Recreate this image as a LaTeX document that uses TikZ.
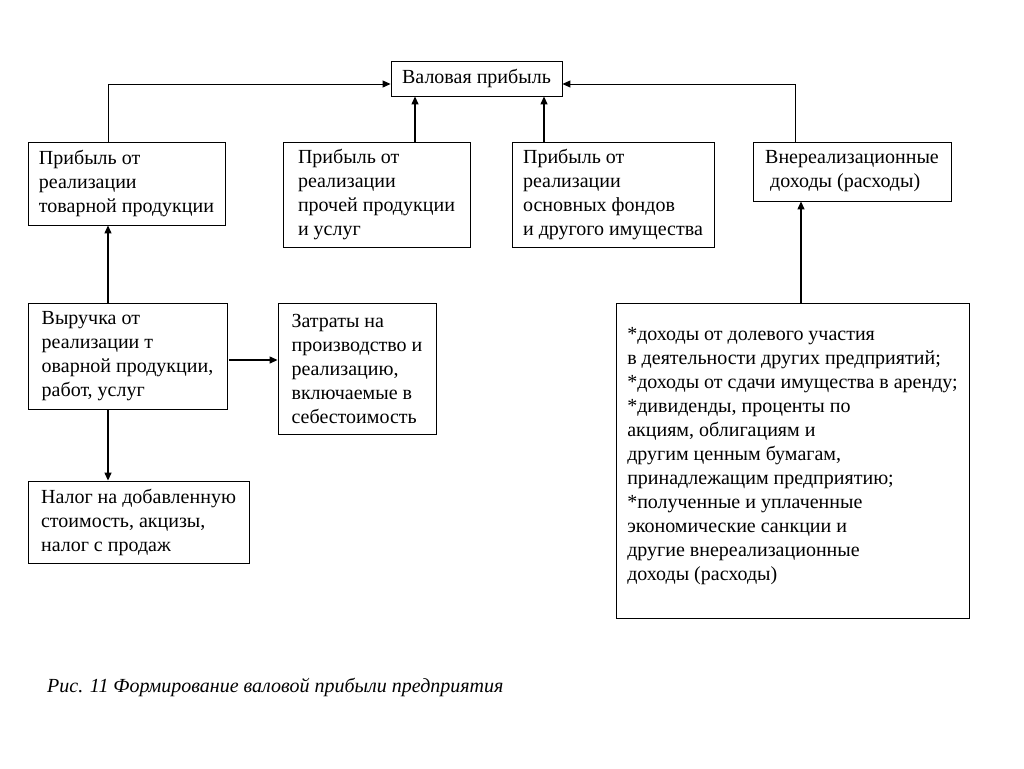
\documentclass[tikz,border=0pt]{standalone}
\usepackage{fontspec}
\setmainfont{Liberation Serif}
\usetikzlibrary{arrows.meta}
\begin{document}
\begin{tikzpicture}[x=1pt,y=-1pt,
  txt/.style={font=\fontsize{20}{24}\selectfont},
  bx/.style={txt, draw=black, line width=0.9pt, align=left, inner sep=0pt},
  arr/.style={line width=1.3pt, -{Triangle[length=8pt,width=7pt]}}]
\useasboundingbox (0,0) rectangle (1024,768);
\fill[white] (0,0) rectangle (1024,768);

\node[bx, align=center, minimum width=171pt, minimum height=35pt] (vp) at (476.5,78.5) {Валовая прибыль};
\node[bx, minimum width=197pt, minimum height=83pt] (b1) at (126.5,183.5) {Прибыль от\\реализации\\товарной продукции};
\node[bx, minimum width=187pt, minimum height=105pt] (b2) at (376.5,194.5) {Прибыль от\\реализации\\прочей продукции\\и услуг};
\node[bx, minimum width=202pt, minimum height=105pt] (b3) at (613,194.5) {Прибыль от\\реализации\\основных фондов\\и другого имущества};
\node[bx, minimum width=198pt, minimum height=59pt] (b4) at (852,171.5) {Внереализационные\\\ доходы (расходы)};
\node[bx, minimum width=199pt, minimum height=106pt] (b5) at (127.5,356) {Выручка от\\реализации т\\оварной продукции,\\работ, услуг};
\node[bx, minimum width=158pt, minimum height=131pt] (b6) at (357,368.5) {Затраты на\\производство и\\реализацию,\\включаемые в\\себестоимость};
\node[bx, minimum width=221pt, minimum height=82pt] (b7) at (138.5,522) {Налог на добавленную\\стоимость, акцизы,\\налог с продаж};
\node[bx, minimum width=353pt, minimum height=315pt] (b8) at (792.5,460.5) {*доходы от долевого участия\\в деятельности других предприятий;\\*доходы от сдачи имущества в аренду;\\*дивиденды, проценты по\\акциям, облигациям и\\другим ценным бумагам,\\принадлежащим предприятию;\\*полученные и уплаченные\\экономические санкции и\\другие внереализационные\\доходы (расходы)\\[-10pt]\mbox{}};

\node[txt, anchor=west, inner sep=0pt, font=\fontsize{20}{24}\selectfont\itshape] (cap) at (47,687) {Рис. 11 Формирование валовой прибыли предприятия};

\coordinate (jL) at (108,84);
\coordinate (jR) at (795,84);
\coordinate (x2) at (415,0);
\coordinate (x3) at (544,0);
\coordinate (x8) at (801,0);
\coordinate (yA) at (0,360);

\draw[arr, line width=1.0pt] (b1.north -| jL) -- (jL) -- (vp.west |- jL);
\draw[arr, line width=1.0pt] (b4.north -| jR) -- (jR) -- (vp.east |- jR);
\draw[arr] (b2.north -| x2) -- (vp.south -| x2);
\draw[arr] (b3.north -| x3) -- (vp.south -| x3);
\draw[arr] (b5.north -| jL) -- (b1.south -| jL);
\draw[arr] (b5.south -| jL) -- (b7.north -| jL);
\draw[arr, shorten <=2pt] (b5.east |- yA) -- (b6.west |- yA);
\draw[arr] (b8.north -| x8) -- (b4.south -| x8);
\end{tikzpicture}
\end{document}
